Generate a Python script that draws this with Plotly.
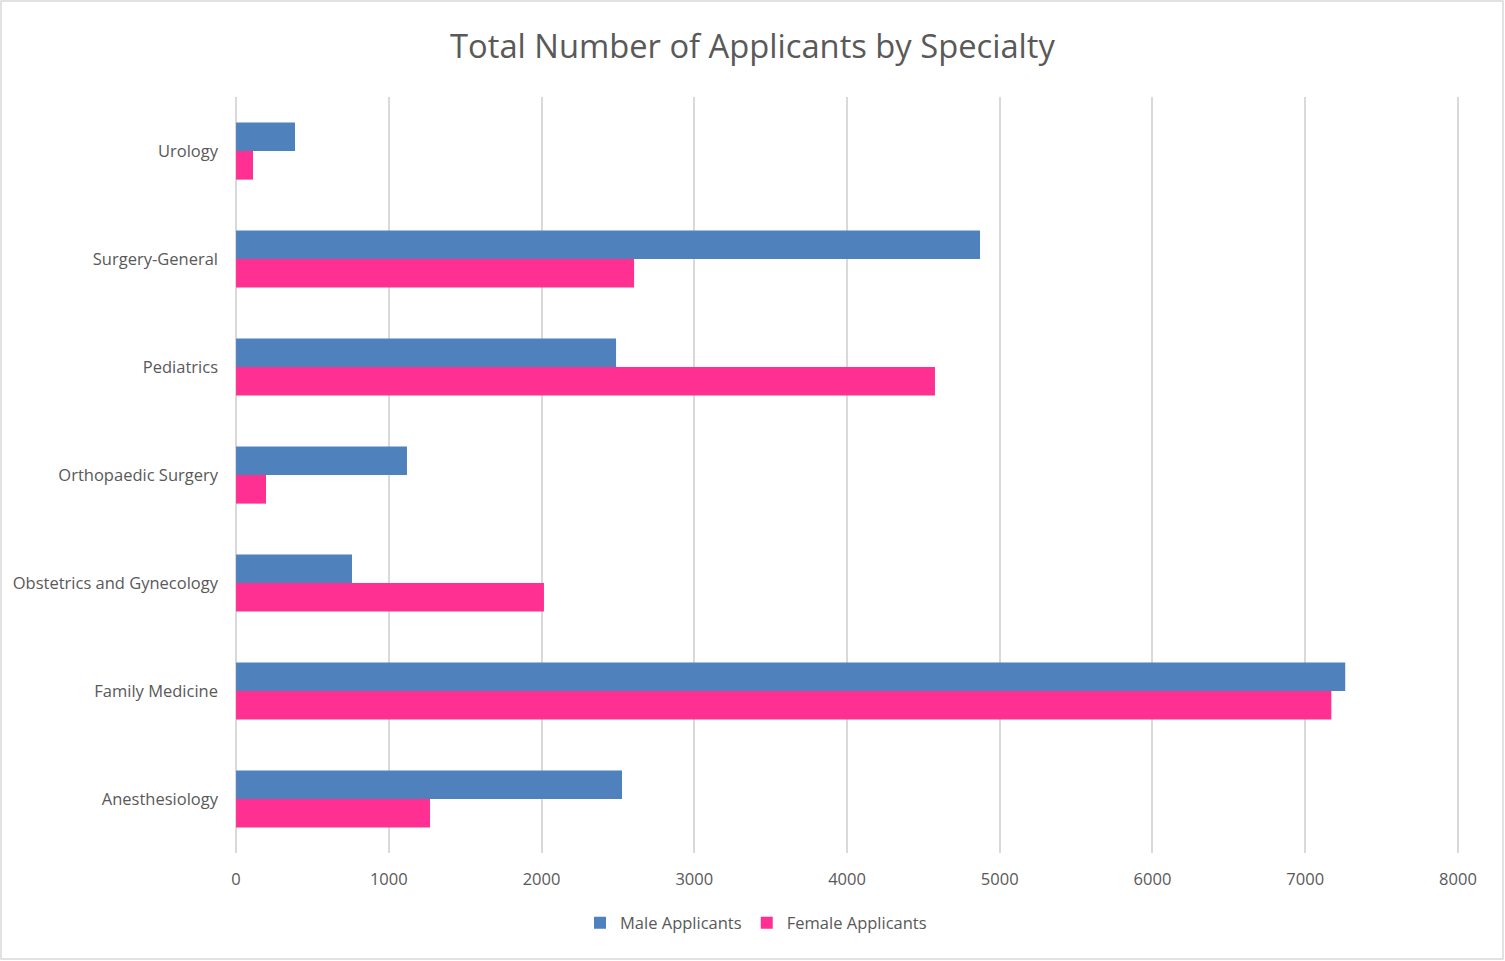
import plotly.graph_objects as go

categories = ["Anesthesiology", "Family Medicine", "Obstetrics and Gynecology",
              "Orthopaedic Surgery", "Pediatrics", "Surgery-General", "Urology"]
male_applicants = [2527, 7262, 759, 1119, 2488, 4871, 386]
female_applicants = [1270, 7171, 2016, 196, 4576, 2606, 111]
x_ticks = [0, 1000, 2000, 3000, 4000, 5000, 6000, 7000, 8000]

W, H = 1505, 961
L, R, T, B = 233, 44, 97, 108

fig = go.Figure()
fig.add_trace(go.Bar(y=categories, x=female_applicants, orientation="h",
                     name="Female Applicants", marker_color="#FF3092",
                     marker_line_width=0, legendrank=2))
fig.add_trace(go.Bar(y=categories, x=male_applicants, orientation="h",
                     name="Male Applicants", marker_color="#4F81BD",
                     marker_line_width=0, legendrank=1))

pw, ph = W - L - R, H - T - B
fig.add_shape(type="rect", xref="paper", yref="paper",
              x0=(1 - L) / pw, x1=(W - 2 - L) / pw,
              y0=-(H - 2 - (H - B)) / ph, y1=(H - 1 - B) / ph,
              line=dict(color="#D9D9D9", width=1.5), fillcolor="rgba(0,0,0,0)",
              layer="below")

fig.update_layout(
    width=W, height=H,
    margin=dict(l=L, r=R, t=T, b=B, pad=0, autoexpand=False),
    paper_bgcolor="white", plot_bgcolor="white",
    font=dict(family="Open Sans", color="#595959", size=16.5),
    title=dict(text="Total Number of Applicants by Specialty", x=0.5, xref="container",
               xanchor="center", y=1 - 47 / H, yanchor="middle",
               font=dict(size=32.7, color="#595959")),
    barmode="group", bargap=0.47, bargroupgap=0,
    xaxis=dict(range=[-20, 8020], tickvals=x_ticks, showgrid=True,
               gridcolor="#D9D9D9", gridwidth=1.5, zeroline=False,
               showline=False, ticks="", ticklabelstandoff=14, automargin=False,
               tickfont=dict(size=16.5, color="#595959")),
    yaxis=dict(showgrid=False, showline=False, ticks="", ticklabelstandoff=14,
               automargin=False, tickfont=dict(size=16.5, color="#595959")),
    legend=dict(orientation="h", x=(756 - L) / pw,
                xanchor="center", y=-(923 - (H - B)) / ph, yanchor="middle",
                font=dict(size=16.5, color="#595959"), itemwidth=30,
                traceorder="normal"),
)

fig.write_html("out.html", config={"displayModeBar": False},
               post_script="document.body.style.margin='0';")
